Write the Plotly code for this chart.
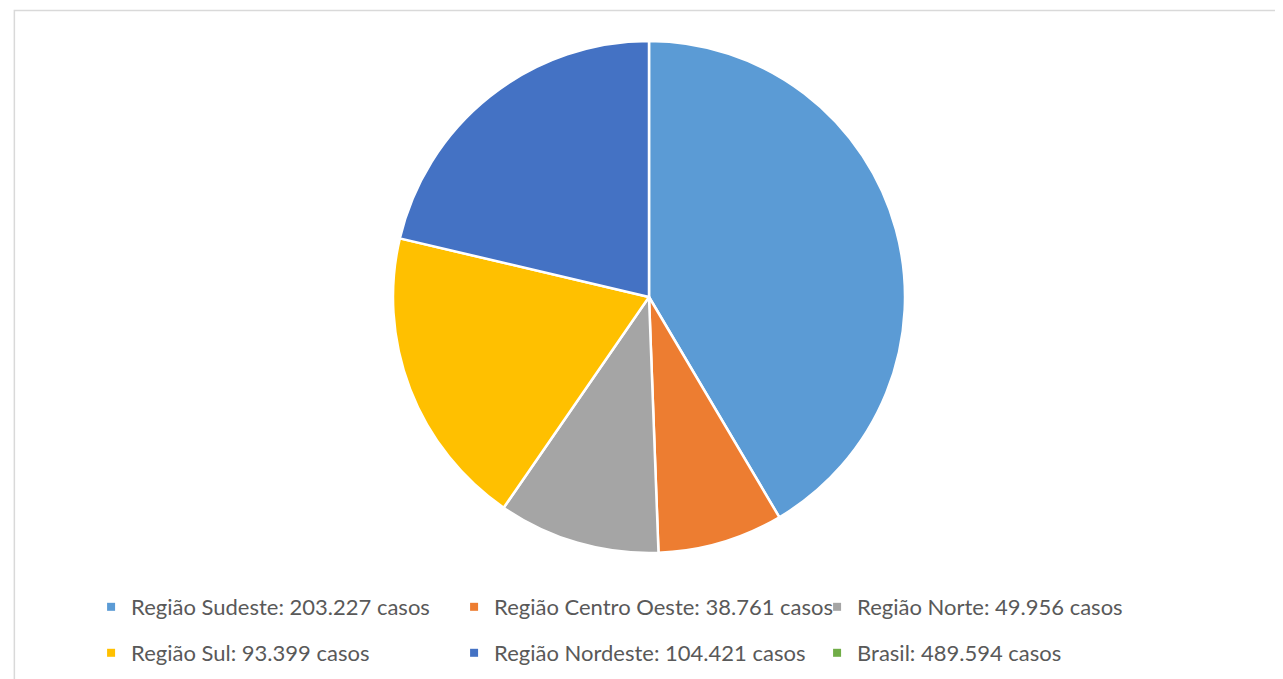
# pie chart of cases per region, with a two-row legend below

import plotly.graph_objects as go

regioes = ['Região Sudeste', 'Região Centro Oeste', 'Região Norte',
           'Região Sul', 'Região Nordeste', 'Brasil']
casos = [203227, 38761, 49956, 93399, 104421, 489594]
# the total (Brasil) is only listed in the legend, not drawn as a slice
no_grafico = [True, True, True, True, True, False]
cores = ['#5B9BD5', '#ED7D31', '#A5A5A5', '#FFC000', '#4472C4', '#70AD47']


def rotulo(nome, n):
    return f'{nome}: {n:,} casos'.replace(',', '.')


fig = go.Figure()

fig.add_trace(go.Pie(
    labels=[rotulo(r, c) for r, c, s in zip(regioes, casos, no_grafico) if s],
    values=[c for c, s in zip(casos, no_grafico) if s],
    marker=dict(colors=[k for k, s in zip(cores, no_grafico) if s],
                line=dict(color='white', width=2.5)),
    sort=False,
    direction='clockwise',
    rotation=0,
    textinfo='none',
    hoverinfo='label+percent',
    showlegend=False,
))

# legend entries (first three on row 1, the rest on row 2)
for i, (r, c, k) in enumerate(zip(regioes, casos, cores)):
    fig.add_trace(go.Scatter(
        x=[None], y=[None], mode='markers',
        marker=dict(symbol='square', size=8, color=k),
        name=rotulo(r, c),
        legend='legend' if i < 3 else 'legend2',
    ))

leg = dict(orientation='h', xanchor='left', yanchor='middle',
           entrywidth=318, entrywidthmode='pixels',
           font=dict(family='Lato', size=22, color='#595959'),
           bgcolor='rgba(0,0,0,0)', itemclick=False, itemdoubleclick=False)

fig.update_layout(
    width=1283, height=679,
    margin=dict(l=7, r=8, t=33, b=134),
    paper_bgcolor='white', plot_bgcolor='white',
    xaxis=dict(visible=False), yaxis=dict(visible=False),
    legend=dict(leg, x=0.060, y=-0.1055),
    legend2=dict(leg, x=0.060, y=-0.1953),
    shapes=[dict(type='rect', xref='paper', yref='paper',
                 x0=-0.0005, x1=1.03, y0=-0.5, y1=1.0596,
                 line=dict(color='#D9D9D9', width=1.5), layer='below')],
)

fig.write_html('out.html')
